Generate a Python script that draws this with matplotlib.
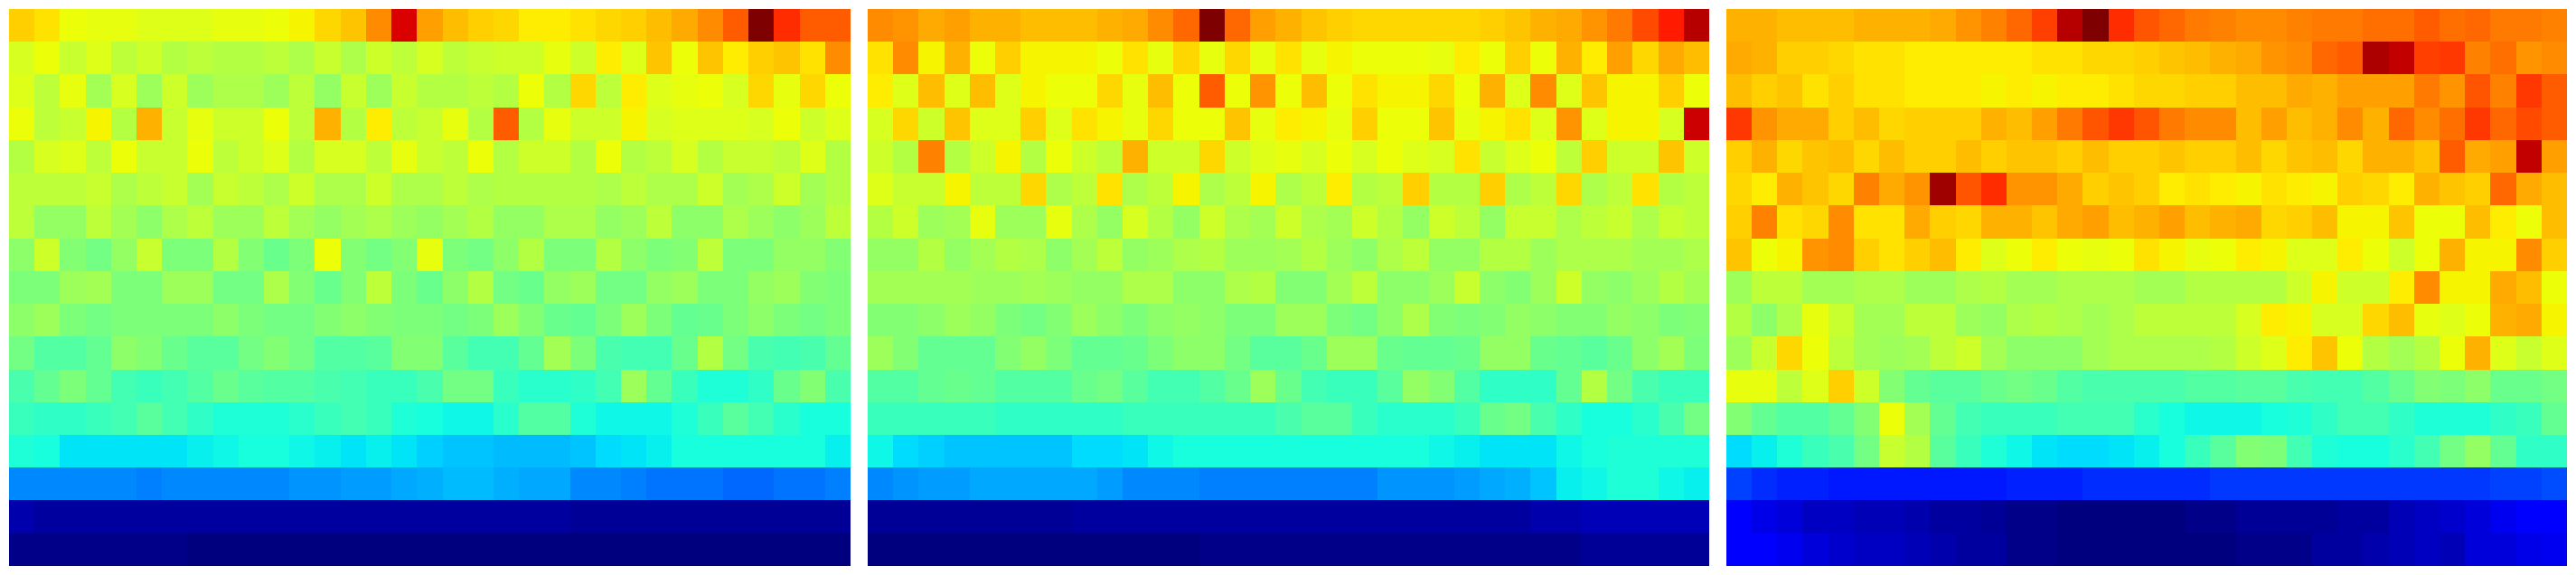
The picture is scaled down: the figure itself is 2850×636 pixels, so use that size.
import numpy as np
import matplotlib
matplotlib.use("Agg")
import matplotlib.pyplot as plt

# Cell values in percent of the colour range, top row first
heat_left = [
    [69,67,64,63,63,62,62,62,63,63,64,65,68,70,76,92,74,71,69,68,66,66,67,68,69,71,73,76,81,100,86,81,81],
    [61,64,59,62,58,60,57,58,57,57,58,56,59,56,60,58,61,58,59,60,60,63,60,66,62,70,64,70,66,69,70,67,76],
    [62,58,63,55,61,54,60,54,56,56,54,58,53,59,54,59,57,57,58,57,64,57,68,58,66,62,63,64,61,68,63,68,64],
    [64,58,59,65,57,72,59,63,60,60,64,58,72,57,66,58,59,63,57,81,57,63,60,60,65,61,62,62,62,61,64,60,62],
    [57,61,62,58,64,59,59,64,58,60,62,57,61,61,58,63,59,58,64,57,60,60,57,64,57,58,61,57,59,59,58,62,57],
    [58,58,58,59,56,58,59,55,59,58,56,60,56,56,60,56,56,58,56,57,57,57,57,56,58,56,56,60,55,56,60,55,57],
    [58,53,53,58,55,52,56,58,54,54,58,55,53,55,56,54,53,55,57,53,53,56,56,53,54,58,52,52,56,54,52,54,58],
    [52,60,51,49,53,59,50,50,57,51,48,50,64,51,49,51,63,50,49,52,57,50,50,57,52,50,51,58,50,50,53,53,51],
    [50,50,54,55,50,50,54,54,49,49,56,51,48,51,58,50,48,52,57,49,48,53,54,49,49,53,54,50,50,53,54,51,50],
    [52,54,50,49,50,50,50,50,52,50,49,49,51,52,51,50,50,49,50,54,51,48,47,50,54,50,47,48,50,52,50,49,50],
    [49,45,45,47,52,51,48,46,46,49,51,49,45,45,46,51,51,46,43,43,47,55,50,44,43,43,48,57,49,44,43,44,47],
    [44,47,50,47,43,42,43,45,48,46,45,45,44,43,42,42,44,49,49,42,40,40,41,43,54,47,42,39,39,41,48,51,44],
    [42,41,41,42,43,46,43,41,39,39,39,40,42,43,42,39,38,37,37,40,45,45,39,37,37,37,39,42,46,43,40,38,38],
    [39,38,35,35,35,35,35,36,37,38,38,37,36,35,36,35,33,32,32,31,31,31,32,34,35,36,38,38,38,38,38,38,36],
    [26,26,26,26,26,25,26,26,26,26,26,27,27,28,28,29,30,31,31,30,29,29,26,26,25,24,24,24,23,23,24,24,25],
    [4,3,3,3,3,3,3,3,3,3,3,3,3,3,3,3,3,3,3,3,3,3,2,2,2,2,2,2,2,2,2,2,2],
    [1,1,1,1,1,1,1,0,0,0,0,0,0,0,0,0,0,0,0,0,0,0,0,0,0,0,0,0,0,0,0,0,0],
]

heat_middle = [
    [76,75,73,74,72,72,71,71,71,72,73,76,80,100,80,74,72,70,69,68,68,68,68,68,69,70,72,73,75,78,83,88,95],
    [67,76,65,72,64,69,65,65,65,64,67,63,68,63,68,63,67,63,65,64,64,64,63,66,64,69,64,72,66,74,68,73,71],
    [66,62,71,62,71,62,65,64,64,68,63,71,64,81,64,75,64,71,64,67,65,65,68,64,72,62,76,62,70,65,65,69,64],
    [61,68,60,70,62,62,69,62,67,65,63,68,64,64,70,63,66,65,63,69,64,64,70,63,65,67,62,75,62,65,65,61,93],
    [60,57,77,57,60,65,57,64,60,58,72,60,60,68,60,62,63,61,64,61,64,62,61,67,59,62,64,58,69,60,60,70,60],
    [62,59,59,65,58,58,68,56,58,67,56,58,65,56,58,65,56,58,66,57,58,69,57,57,69,56,58,68,56,58,67,57,58],
    [57,60,54,55,63,54,54,63,56,53,61,57,53,60,56,55,60,56,55,60,57,53,60,58,53,59,59,56,58,59,56,59,58],
    [53,53,57,53,55,57,56,52,55,58,53,54,56,57,54,54,55,57,54,52,56,58,53,53,57,57,54,56,56,56,55,55,56],
    [55,55,55,55,54,54,55,54,53,53,56,56,52,52,56,57,51,51,55,58,52,52,54,59,52,51,54,60,53,52,54,57,55],
    [51,51,52,54,53,50,49,51,54,52,50,52,53,52,50,50,54,54,50,49,52,56,51,50,51,53,52,51,51,53,52,50,51],
    [54,51,47,47,47,51,53,50,47,47,48,50,52,52,49,46,46,48,54,54,48,47,47,48,53,53,48,47,46,48,52,55,50],
    [45,45,47,48,47,45,45,45,48,49,46,43,43,45,48,54,48,43,42,42,46,53,51,45,41,41,41,47,57,49,44,42,42],
    [42,42,42,42,42,41,41,41,41,41,42,42,42,42,42,42,44,46,46,42,40,40,40,42,48,49,44,41,38,38,40,44,49],
    [37,34,33,32,32,32,32,32,34,34,35,37,38,38,38,38,38,38,38,38,38,38,37,36,35,35,35,37,38,39,39,39,39],
    [26,27,28,28,29,29,29,29,29,28,26,26,26,25,25,25,25,25,25,25,27,27,27,28,29,30,32,36,37,39,39,37,36],
    [2,2,2,2,2,2,2,2,3,3,3,3,3,3,3,3,3,3,3,3,3,3,3,3,3,3,4,4,5,5,5,5,5],
    [0,0,0,0,0,0,0,0,0,0,0,0,0,1,1,1,1,1,1,1,1,1,1,1,1,1,1,1,2,2,2,2,2],
]

heat_right = [
    [72,72,71,71,71,72,72,72,73,75,77,80,84,95,100,86,82,80,78,77,76,76,77,78,78,79,79,81,79,80,78,78,77],
    [73,72,69,69,68,67,67,66,66,66,66,66,67,67,68,68,69,70,71,72,73,75,76,80,81,96,94,84,85,77,79,75,76],
    [71,69,70,67,69,67,67,66,66,66,65,66,65,66,66,67,68,68,69,69,71,71,73,72,74,74,74,78,75,82,77,85,81],
    [85,75,73,73,69,71,68,69,69,69,72,71,74,78,82,85,82,78,76,76,71,74,71,72,76,72,80,76,79,85,80,83,81],
    [69,72,68,70,71,68,71,69,69,71,69,70,70,69,71,69,69,70,69,69,71,68,70,71,68,72,72,70,81,73,74,94,74],
    [68,66,72,70,68,77,73,75,97,82,86,75,75,73,69,70,69,66,67,66,65,67,66,65,69,68,66,72,70,69,80,73,71],
    [69,77,67,68,76,67,67,73,69,68,72,72,70,73,74,71,72,74,71,72,73,68,69,71,65,65,70,64,64,71,66,64,71],
    [70,64,65,75,76,69,67,69,71,66,62,64,66,64,63,64,67,65,63,64,66,65,62,62,66,64,60,64,72,65,65,76,69],
    [54,58,58,55,55,56,56,54,54,56,57,55,55,56,56,56,55,55,57,57,57,57,60,65,60,60,66,76,65,65,73,71,64],
    [57,52,56,63,59,55,55,58,58,54,53,56,57,56,55,56,58,58,58,58,61,66,65,61,61,68,71,63,62,64,72,73,65],
    [54,59,68,64,58,55,54,55,58,60,55,52,52,52,55,56,56,56,56,57,60,62,66,70,64,57,55,57,64,72,62,59,62],
    [63,63,58,62,69,60,51,47,46,46,48,49,48,45,44,44,44,44,45,45,46,46,44,43,43,45,48,51,50,52,48,48,49],
    [51,47,45,45,47,51,64,55,47,43,42,42,42,43,43,43,40,38,37,37,37,38,39,41,43,43,41,39,39,39,41,42,47],
    [34,36,39,42,44,49,59,57,46,42,39,37,35,34,34,35,36,38,42,46,51,50,43,39,38,38,40,43,49,53,47,41,41],
    [19,17,16,16,15,15,15,15,15,15,15,16,16,16,17,17,17,17,17,18,18,18,18,18,18,18,18,18,18,18,19,19,20],
    [11,9,8,6,6,5,5,4,3,3,2,1,1,0,0,0,0,0,1,1,2,2,2,2,3,3,5,6,7,8,10,11,11],
    [11,11,10,8,7,6,6,5,4,3,3,1,1,0,0,0,0,0,0,0,1,1,1,3,3,4,5,6,5,8,8,9,10],
]

panels = [heat_left, heat_middle, heat_right]
lefts = [10, 960, 1910]  # px

W, H = 2850, 636
fig = plt.figure(figsize=(W / 100, H / 100), dpi=100)

for i in range(3):
    ax = fig.add_axes([lefts[i] / W, (H - 626) / H, 930 / W, 616 / H])
    data = np.array(panels[i]) / 100
    ax.imshow(data, cmap="jet", vmin=0, vmax=1, aspect="auto", interpolation="nearest")
    ax.axis("off")

fig.savefig("out.png", dpi=100)
